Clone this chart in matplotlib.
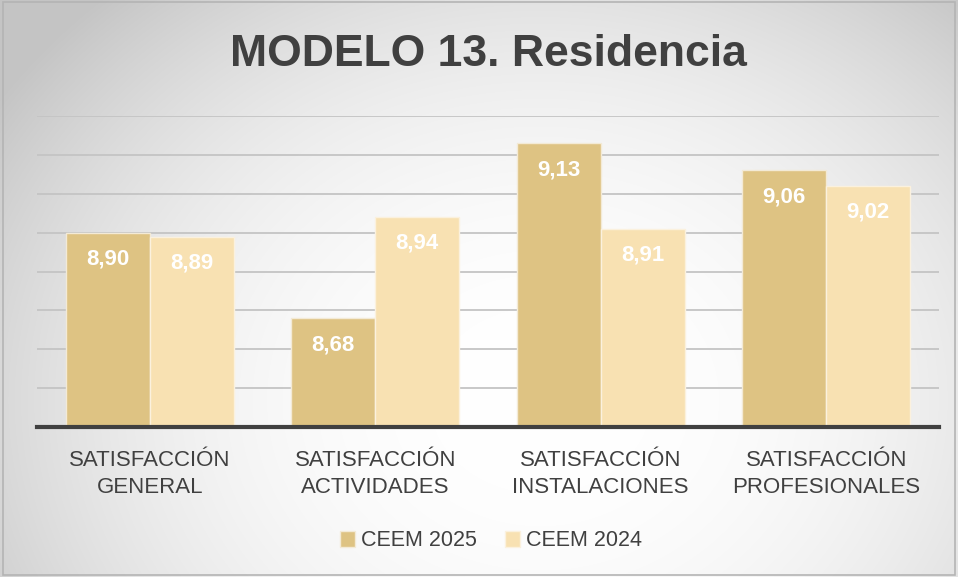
import numpy as np
import matplotlib
matplotlib.use("Agg")
import matplotlib.pyplot as plt
from matplotlib.patches import Rectangle

categories = ["SATISFACCIÓN\nGENERAL", "SATISFACCIÓN\nACTIVIDADES",
              "SATISFACCIÓN\nINSTALACIONES", "SATISFACCIÓN\nPROFESIONALES"]
ceem_2025 = [8.90, 8.68, 9.13, 9.06]
ceem_2024 = [8.89, 8.94, 8.91, 9.02]
series_names = ["CEEM 2025", "CEEM 2024"]
title = "MODELO 13. Residencia"

plt.rcParams['font.family'] = ['Liberation Sans', 'DejaVu Sans']

W, H = 958, 577
fig = plt.figure(figsize=(W / 100, H / 100), dpi=100)

# radial gradient background
bg = fig.add_axes([0, 0, 1, 1], zorder=-10)
yy, xx = np.mgrid[0:H, 0:W]
r = np.sqrt(((xx - 540) / 500.0) ** 2 + ((yy - 400) / 420.0) ** 2)
t = np.clip(r / 1.3, 0, 1)
val = 1.0 - 0.23 * t ** 2.3
bg.imshow(np.dstack([val, val, val]), extent=[0, 1, 0, 1], aspect='auto', origin='upper')
bg.set_axis_off()
fig.patches.append(Rectangle((0.003, 0.003), 0.994, 0.994, transform=fig.transFigure,
                             fill=False, edgecolor='#b4b4b4', lw=1.2))

ax = fig.add_axes([37 / W, 1 - 427 / H, (939 - 37) / W, (427 - 116) / H])
ax.patch.set_alpha(0)

x = np.arange(len(categories))
w = 0.373
c25 = '#DEC383'
c24 = '#F8E1B2'
b1 = ax.bar(x - w / 2, ceem_2025, w, color=c25, edgecolor='#F3EAD6', lw=1,
            label=series_names[0], zorder=3)
b2 = ax.bar(x + w / 2, ceem_2024, w, color=c24, edgecolor='#FBF1DE', lw=1,
            label=series_names[1], zorder=3)

ax.set_ylim(8.4, 9.2)
ax.set_xlim(-0.5, 3.5)
ax.set_yticks(np.arange(8.4, 9.21, 0.1))
ax.yaxis.grid(True, color='#c4c4c4', lw=1.3)
ax.set_axisbelow(True)
for s in ['top', 'right', 'left']:
    ax.spines[s].set_visible(False)
ax.spines['bottom'].set_color('#404040')
ax.spines['bottom'].set_linewidth(3)
ax.spines['bottom'].set_zorder(5)
ax.tick_params(axis='y', left=False, labelleft=False)
ax.tick_params(axis='x', bottom=False, pad=13)
ax.set_xticks(x)
ax.set_xticklabels(categories, fontsize=16, color='#404040', linespacing=1.4)

for bars, vals in [(b1, ceem_2025), (b2, ceem_2024)]:
    for b, v in zip(bars, vals):
        ax.annotate(f"{v:.2f}".replace('.', ','), (b.get_x() + b.get_width() / 2, v),
                    xytext=(0, -19), textcoords='offset points', ha='center', va='center',
                    fontsize=16, fontweight='bold', color='white', zorder=6)

fig.text(488 / W, 1 - 55 / H, title, ha='center', va='center', fontsize=32,
         fontweight='bold', color='#404040')

fig.legend(handles=[b1, b2], labels=series_names, loc='center', bbox_to_anchor=(491 / W, 1 - 541 / H),
           ncol=2, frameon=False, fontsize=15.5, labelcolor='#404040', handlelength=0.7,
           handleheight=0.7, handletextpad=0.3, columnspacing=1.3)

fig.savefig("out.png", dpi=100)
